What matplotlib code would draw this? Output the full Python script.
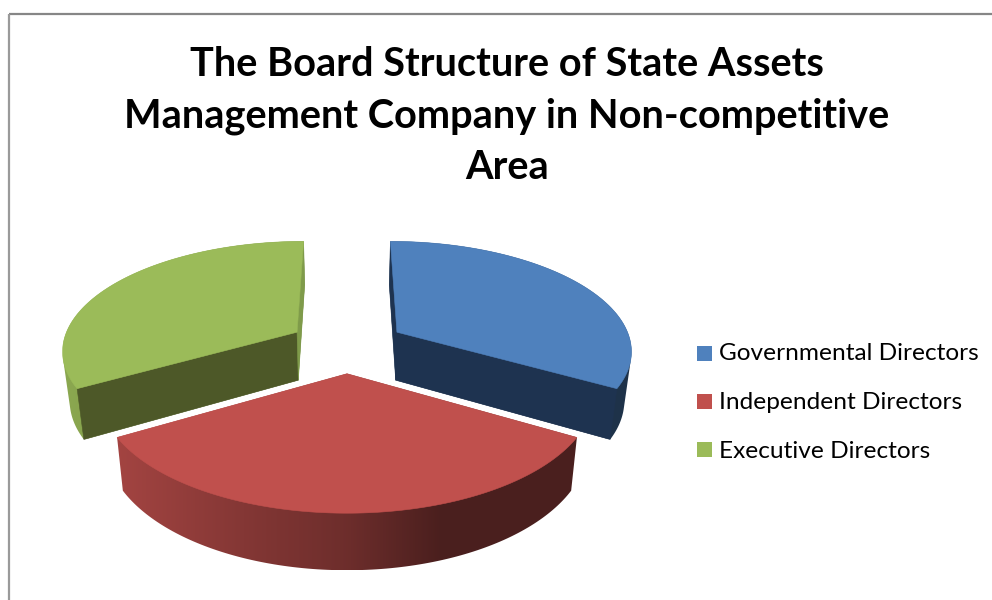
import numpy as np
import matplotlib
matplotlib.use('Agg')
import matplotlib.pyplot as plt
from matplotlib.colors import to_rgb
from matplotlib.patches import Polygon, Rectangle

title = "The Board Structure of State Assets\nManagement Company in Non-competitive\nArea"
categories = ["Governmental Directors", "Independent Directors", "Executive Directors"]
shares = [33.33, 33.33, 33.33]
colors = ["#4F81BD", "#C0504D", "#9BBB59"]
# colour of the two radial faces of each slice, None where the face is hidden
start_faces = ["#1E3350", None, "#4D5828"]
end_faces = ["#1E3350", None, "#7F9B4A"]

# pie geometry in pixels, with a simple perspective
CX, CY = 347, 345.5
RX, RY = 235, 108.5
PERSP = 0.153
EXPLODE = 0.25

plt.rcParams['font.family'] = ['Lato', 'DejaVu Sans']


def project(u, v):
    g = 1 + PERSP * v
    return CX + RX * u / g, CY - RY * v / g


def drop(x, y):
    # bottom face of the pie, slightly smaller and further down
    return CX + (x - CX) * 0.975, y + 48 + (y - 332) * 0.05


def wall_gradient(base, x):
    shade = np.interp(x, [61, 116, 250, 347, 440, 632], [0.9, 0.85, 0.68, 0.57, 0.39, 0.39])
    return np.outer(shade, to_rgb(base))[np.newaxis, :, :]


def convex_hull(points):
    pts = sorted(set(points))

    def half(seq):
        out = []
        for p in seq:
            while len(out) > 1 and (out[-1][0] - out[-2][0]) * (p[1] - out[-2][1]) - (out[-1][1] - out[-2][1]) * (p[0] - out[-2][0]) <= 0:
                out.pop()
            out.append(p)
        return out[:-1]

    return half(pts) + half(pts[::-1])


def draw_slice(ax, start, end, color, start_face, end_face):
    mid = np.radians((start + end) / 2)
    ou, ov = EXPLODE * np.sin(mid), EXPLODE * np.cos(mid)
    th = np.radians(np.linspace(start, end, 121))
    xs, ys = project(ou + np.sin(th), ov + np.cos(th))
    px, py = project(ou, ov)
    bx, by = drop(xs, ys)
    pbx, pby = drop(px, py)

    # the solid is the hull of top and bottom face, top and radial faces cover the rest
    pts = list(zip(xs.tolist(), ys.tolist())) + list(zip(bx.tolist(), by.tolist()))
    pts += [(float(px), float(py)), (float(pbx), float(pby))]
    wall = Polygon(convex_hull(pts), closed=True, fc='none', ec='none', zorder=2)
    ax.add_patch(wall)
    x0, x1 = min(p[0] for p in pts), max(p[0] for p in pts)
    y0, y1 = min(p[1] for p in pts), max(p[1] for p in pts)
    grad = wall_gradient(color, np.linspace(x0, x1, 256))
    im = ax.imshow(grad, extent=(x0, x1, y1, y0), aspect='auto', zorder=2, interpolation='bilinear')
    im.set_clip_path(wall)

    for k, c in ((0, start_face), (-1, end_face)):
        if c is None:
            continue
        quad = [(px, py), (xs[k], ys[k]), (bx[k], by[k]), (pbx, pby)]
        ax.add_patch(Polygon(quad, closed=True, fc=c, ec=c, lw=0.4, zorder=3))

    top = [(px, py)] + list(zip(xs, ys))
    ax.add_patch(Polygon(top, closed=True, fc=color, ec=color, lw=0.4, zorder=4))


fig = plt.figure(figsize=(9.92, 6), dpi=100)
ax = fig.add_axes([0, 0, 1, 1])
ax.axis('off')

# chart frame, only top and left fall inside the picture
ax.plot([992, 9], [14, 14], color='#868686', lw=1.6, solid_capstyle='butt')
ax.plot([9, 9], [14, 600], color='#9A9A9A', lw=1.6, solid_capstyle='butt')

ax.text(507, 116, title, ha='center', va='center', fontsize=28.6, fontweight='bold',
        color='black', linespacing=1.47)

edges = np.cumsum([0] + shares) / sum(shares) * 360
# back slices first, the front one overlaps them
for i in (2, 0, 1):
    draw_slice(ax, edges[i], edges[i + 1], colors[i], start_faces[i], end_faces[i])

for i, label in enumerate(categories):
    y = 353.5 + i * 48
    ax.add_patch(Rectangle((697, y - 7.5), 15, 15, fc=colors[i], ec='none'))
    ax.text(719, y + 0.5 + i * 0.5, label, ha='left', va='center', fontsize=17.6, color='black')

ax.set_xlim(0, 992)
ax.set_ylim(600, 0)
fig.savefig('out.png', dpi=100)
plt.close(fig)
